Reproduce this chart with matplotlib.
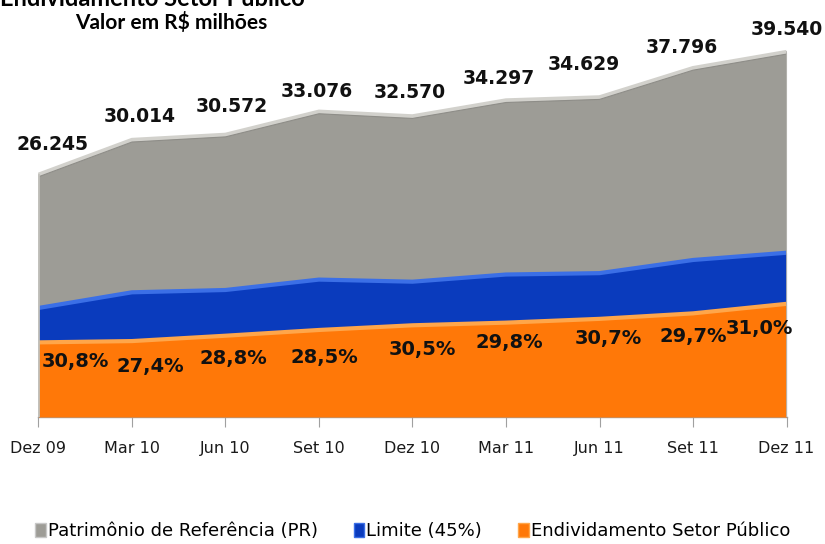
import matplotlib
matplotlib.use("Agg")
import matplotlib.pyplot as plt
from matplotlib.patches import Patch
import numpy as np

# ---- data ----
periods = ["Dez 09", "Mar 10", "Jun 10", "Set 10", "Dez 10", "Mar 11", "Jun 11", "Set 11", "Dez 11"]
pr_values = [26245, 30014, 30572, 33076, 32570, 34297, 34629, 37796, 39540]
pr_labels = ["26.245", "30.014", "30.572", "33.076", "32.570", "34.297", "34.629", "37.796", "39.540"]
endiv_pct = [30.8, 27.4, 28.8, 28.5, 30.5, 29.8, 30.7, 29.7, 31.0]
pct_labels = ["30,8%", "27,4%", "28,8%", "28,5%", "30,5%", "29,8%", "30,7%", "29,7%", "31,0%"]
limit_share = 0.45
legend_labels = ["Patrimônio de Referência (PR)", "Limite (45%)", "Endividamento Setor Público"]

# ---- styling / placement (pixel offsets) ----
pr_dx = [14, 8, 6, -2, -3, -7, -16, -11, 0]
pr_dy = [30, 23, 28, 20, 24, 22, 33, 21, 22]
pct_dx = [37, 18, 8, 5, 10, 3, 9, 0, -27]
pct_dy = [-19, -25, -23, -28, -24, -20, -20, -23, -25]

c_gray, c_gray_edge = "#9d9c96", "#d2d1cc"
c_blue, c_blue_edge = "#0a3bbd", "#3b6fe6"
c_orange, c_orange_edge = "#ff7808", "#ffa64a"

W, H = 825, 544
fig = plt.figure(figsize=(W / 100, H / 100), dpi=100)
ax = fig.add_axes([38 / W, (H - 417) / H, (787 - 38) / W, 417 / H])

x = np.arange(len(periods))
pr = np.array(pr_values, dtype=float)
lim = pr * limit_share
endiv = pr * np.array(endiv_pct) / 100.0

ax.fill_between(x, 0, pr, color=c_gray, lw=0, zorder=1)
ax.fill_between(x, 0, lim, color=c_blue, lw=0, zorder=2)
ax.fill_between(x, 0, endiv, color=c_orange, lw=0, zorder=3)

# bevel-like top edges
ax.plot(x, pr, color=c_gray_edge, lw=3, zorder=4, solid_capstyle="butt")
ax.plot(x, pr - 230, color="#8e8d88", lw=0.8, zorder=4)
ax.plot(x, lim, color=c_blue_edge, lw=3, zorder=4, solid_capstyle="butt")
ax.plot(x, endiv, color=c_orange_edge, lw=3, zorder=4, solid_capstyle="butt")
# side edges
ax.plot([x[0], x[0]], [0, pr[0]], color="#c2c1bc", lw=2, zorder=4)
ax.plot([x[-1], x[-1]], [0, pr[-1]], color="#b5b4af", lw=2, zorder=4)

ax.set_xlim(x[0] - 0.005, x[-1] + 0.005)
ax.set_ylim(0, 45170)

ax.set_yticks([])
for s in ["top", "left", "right"]:
    ax.spines[s].set_visible(False)
ax.spines["bottom"].set_color("#a0a0a0")
ax.spines["bottom"].set_linewidth(1)
ax.set_xticks(x)
ax.set_xticklabels(periods, fontsize=11.5, color="#1a1a1a")
ax.tick_params(axis="x", direction="out", length=7, color="#a0a0a0", pad=10)

for i in range(len(x)):
    ax.annotate(pr_labels[i], (x[i], pr[i]), xytext=(pr_dx[i], pr_dy[i]),
                textcoords="offset pixels", ha="center", va="center",
                fontsize=13.5, fontweight="bold", color="#111111", zorder=6,
                annotation_clip=False)
    ax.annotate(pct_labels[i], (x[i], endiv[i]), xytext=(pct_dx[i], pct_dy[i]),
                textcoords="offset pixels", ha="center", va="center",
                fontsize=14, fontweight="bold", color="#111111", zorder=6,
                annotation_clip=False)

fig.text(0.0, 1.0 + 2 / H, "Endividamento Setor Público", fontsize=17, fontweight="bold",
         ha="left", va="center", family="Lato")
fig.text(75 / W, 1 - 23 / H, "Valor em R$ milhões", fontsize=15, fontweight="bold",
         ha="left", va="center", family="Lato")

handles = [Patch(facecolor=c_gray, edgecolor="#c8c8c8"),
           Patch(facecolor=c_blue, edgecolor=c_blue_edge),
           Patch(facecolor=c_orange, edgecolor=c_orange_edge)]
fig.legend(handles, legend_labels, loc="center", bbox_to_anchor=(0.5, 1 - 531 / H),
           ncol=3, frameon=False, fontsize=13, handlelength=0.6, handleheight=0.8,
           handletextpad=0.1, columnspacing=2.0)

fig.savefig("out.png", dpi=100)
